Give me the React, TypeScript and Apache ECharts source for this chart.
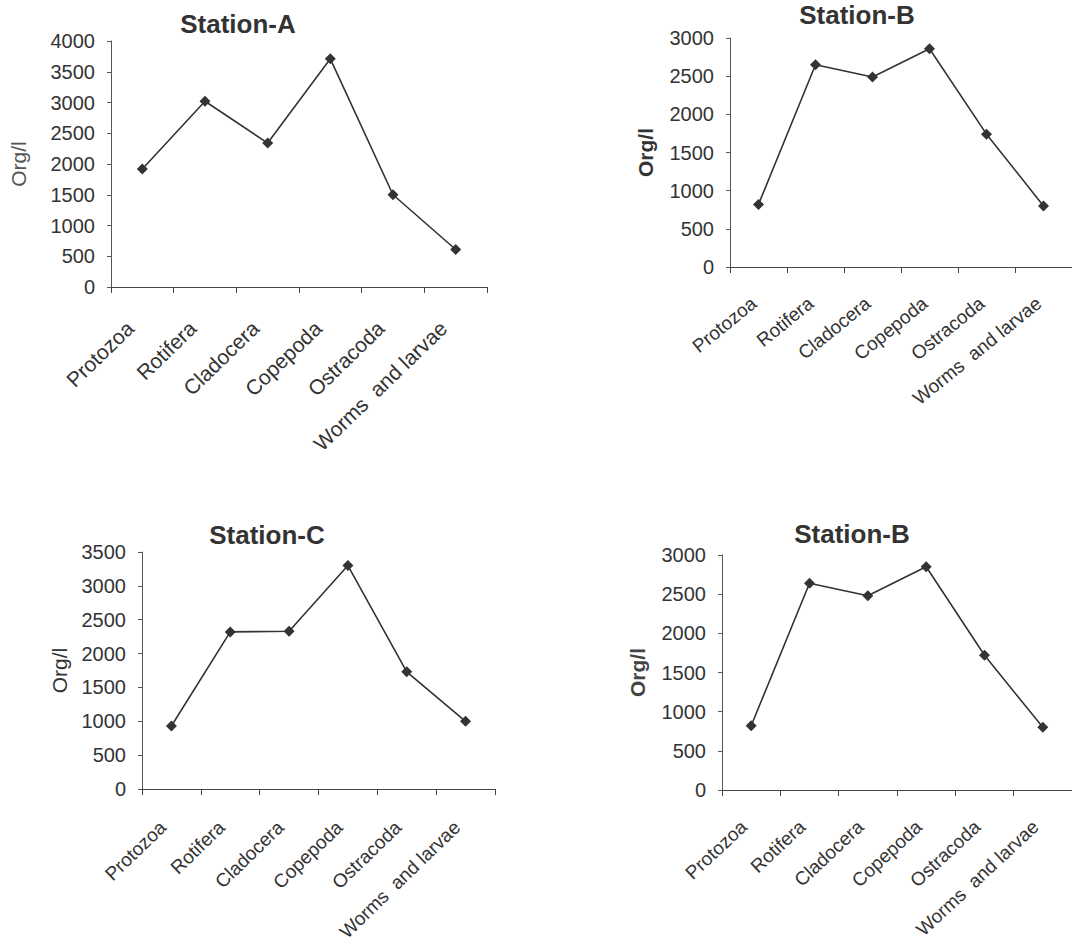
import React, { useEffect, useRef } from "react";
import * as echarts from "echarts";

const categories = ["Protozoa", "Rotifera", "Cladocera", "Copepoda", "Ostracoda", "Worms  and larvae"];
const titles = ["Station-A", "Station-B", "Station-C", "Station-B"];
const stationA = [1920, 3020, 2340, 3710, 1500, 610];
const stationB = [820, 2650, 2490, 2860, 1740, 800];
const stationC = [930, 2320, 2330, 3300, 1730, 1000];
const stationB2 = [820, 2640, 2480, 2850, 1720, 800];
const yMax = [4000, 3000, 3500, 3000];
const yInterval = 500;
const yName = "Org/l";

const FONT = "Liberation Sans, Arial, sans-serif";
const INK = "#333";

// panel layout: grid box, title center, label tuning
const panels = [
  { left: 111, top: 41, width: 376, height: 246, tx: 238, ty: 24, rot: 44, margin: 26, pad: 17, catFont: 21, nameGap: 82, nameWeight: "normal", nameColor: "#555" },
  { left: 730, top: 38, width: 342, height: 229, tx: 857, ty: 15, rot: 39, margin: 30, pad: 6, catFont: 19, nameGap: 74, nameWeight: "bold", nameColor: "#333" },
  { left: 142, top: 552, width: 353, height: 237, tx: 267, ty: 535, rot: 44, margin: 27, pad: 12, catFont: 19, nameGap: 72, nameWeight: "normal", nameColor: "#333" },
  { left: 722, top: 555, width: 350, height: 235, tx: 852, ty: 534, rot: 43, margin: 27, pad: 10, catFont: 19, nameGap: 74, nameWeight: "bold", nameColor: "#444" },
];

const seriesData = [stationA, stationB, stationC, stationB2];

export default function App() {
  const ref = useRef<HTMLDivElement>(null);
  useEffect(() => {
    if (!ref.current) return;
    const chart = echarts.init(ref.current, undefined, { renderer: "svg" });
    const option: any = {
      animation: false,
      backgroundColor: "#ffffff",
      grid: panels.map((p) => ({ left: p.left, top: p.top, width: p.width, height: p.height, containLabel: false })),
      xAxis: panels.map((p, i) => ({
        type: "category",
        gridIndex: i,
        data: categories,
        boundaryGap: true,
        axisLine: { show: true, lineStyle: { color: "#444", width: 1 } },
        axisTick: { show: true, inside: false, length: 6, alignWithLabel: false, lineStyle: { color: "#444" } },
        axisLabel: {
          interval: 0,
          rotate: p.rot,
          margin: p.margin,
          fontSize: p.catFont,
          fontFamily: FONT,
          color: INK,
          padding: [0, p.pad, 0, 0],
          hideOverlap: false,
        },
        splitLine: { show: false },
      })),
      yAxis: panels.map((p, i) => ({
        type: "value",
        gridIndex: i,
        min: 0,
        max: yMax[i],
        interval: yInterval,
        name: yName,
        nameLocation: "middle",
        nameRotate: 90,
        nameGap: p.nameGap,
        nameTextStyle: { fontSize: 21, fontFamily: FONT, color: p.nameColor, fontWeight: p.nameWeight },
        axisLine: { show: true, lineStyle: { color: "#555", width: 1 } },
        axisTick: { show: true, inside: false, length: 4, lineStyle: { color: "#555" } },
        axisLabel: { margin: 16, fontSize: 20, fontFamily: FONT, color: INK, formatter: (v: number) => String(v) },
        splitLine: { show: false },
      })),
      series: seriesData.map((d, i) => ({
        type: "line",
        xAxisIndex: i,
        yAxisIndex: i,
        data: d,
        symbol: "diamond",
        symbolSize: 11,
        lineStyle: { color: "#333", width: 1.6 },
        itemStyle: { color: "#333" },
      })),
      graphic: panels.map((p, i) => ({
        type: "text",
        x: p.tx,
        y: p.ty,
        style: {
          text: titles[i],
          align: "center",
          verticalAlign: "middle",
          textAlign: "center",
          textVerticalAlign: "middle",
          fontSize: 26,
          fontWeight: "bold",
          fontFamily: FONT,
          fill: "#333",
        },
      })),
    };
    chart.setOption(option);
    return () => chart.dispose();
  }, []);
  return <div ref={ref} style={{ position: "fixed", left: 0, top: 0, width: 1072, height: 949 }} />;
}
